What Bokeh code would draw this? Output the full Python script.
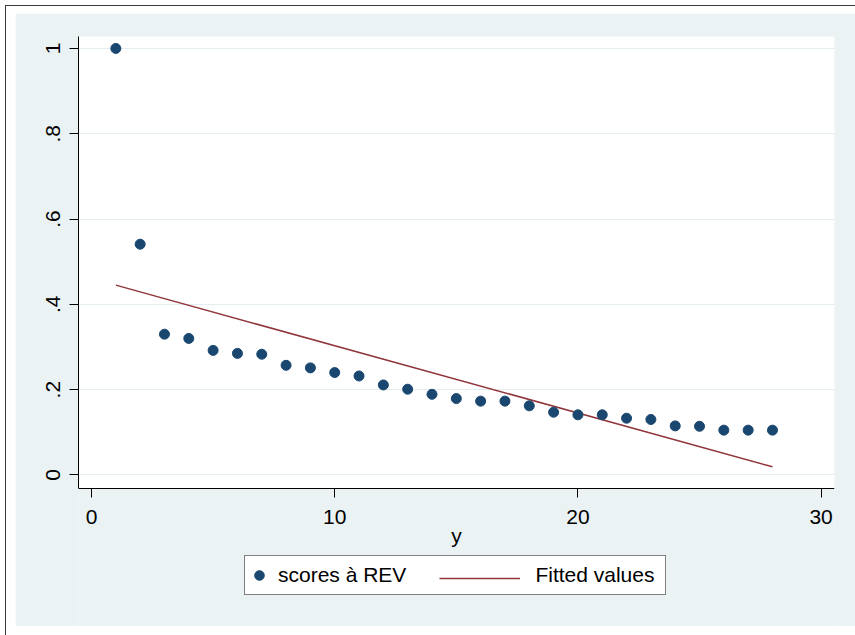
from bokeh.plotting import figure
from bokeh.models import Legend, LegendItem, FixedTicker, Range1d, BoxAnnotation
from bokeh.core.properties import value
from bokeh.embed import file_html
from bokeh.resources import INLINE

# ---- data ----
y_obs = list(range(1, 29))
scores_rev = [1.000, 0.541, 0.330, 0.320, 0.292, 0.285, 0.283, 0.257, 0.251, 0.240,
              0.232, 0.211, 0.201, 0.189, 0.179, 0.173, 0.173, 0.162, 0.147, 0.141,
              0.141, 0.133, 0.130, 0.115, 0.114, 0.105, 0.105, 0.105]
fit_x = [1, 28]
fit_y = [0.445, 0.019]

x_ticks = [0, 10, 20, 30]
y_ticks = [0, 0.2, 0.4, 0.6, 0.8, 1.0]
y_tick_labels = ["0", ".2", ".4", ".6", ".8", "1"]

series_labels = ["scores à REV", "Fitted values"]
x_title = "y"

NAVY = "#1A476F"
MAROON = "#90353B"
BG = "#EAF2F3"
FONT = "Liberation Sans"
FS = "21px"

Y_TOP = 1.028      # top of plot region
Y_AXIS = -0.0317   # where the x axis sits (bottom of plot region)
Y_LOW = -0.3554    # bottom of the drawing area (legend lives below the axis)

p = figure(width=840, height=613, output_backend="svg", toolbar_location=None, tools="",
           x_range=Range1d(-0.535, 30.55), y_range=Range1d(Y_LOW, Y_TOP),
           min_border_left=63, min_border_right=21, min_border_top=23, min_border_bottom=0)
p.styles = {"margin-left": "15px", "margin-top": "13px",
            "box-shadow": "-1px 1px 0 8px white, -1px 1px 0 9px #3c3c3c"}
p.background_fill_color = BG
p.border_fill_color = BG
p.outline_line_color = None

plot_region = BoxAnnotation(bottom=Y_AXIS, top=Y_TOP, fill_color="white", fill_alpha=1.0,
                            line_color=None, level="image")
p.add_layout(plot_region)

p.xgrid.visible = False
p.ygrid.grid_line_color = "#E4EDF0"
p.ygrid.grid_line_width = 1
p.ygrid.level = "underlay"

for ax in (p.xaxis[0], p.yaxis[0]):
    ax.axis_line_color = "black"
    ax.axis_line_width = 1
    ax.major_tick_line_color = "black"
    ax.major_tick_out = 9
    ax.major_tick_in = 0
    ax.minor_tick_line_color = None
    ax.major_label_text_font = FONT
    ax.major_label_text_font_size = FS
    ax.major_label_text_color = "black"

p.xaxis.ticker = FixedTicker(ticks=x_ticks)
p.xaxis.fixed_location = Y_AXIS
p.xaxis.major_label_standoff = 13
p.xaxis.axis_label = x_title
p.xaxis.axis_label_text_font = FONT
p.xaxis.axis_label_text_font_size = FS
p.xaxis.axis_label_text_font_style = "normal"
p.xaxis.axis_label_text_color = "black"
p.xaxis.axis_label_standoff = -4

p.yaxis.ticker = FixedTicker(ticks=y_ticks)
p.yaxis.bounds = (Y_AXIS, Y_TOP)
p.yaxis.major_label_overrides = {t: l for t, l in zip(y_ticks, y_tick_labels)}
p.yaxis.major_label_orientation = "vertical"
p.yaxis.major_label_standoff = 9

fit_r = p.line(fit_x, fit_y, line_color=MAROON, line_width=1.5)
pts_r = p.scatter(y_obs, scores_rev, size=10, fill_color=NAVY, line_color=NAVY)
dummy_r = p.line(x=[], y=[], line_alpha=0)

legend_main = Legend(
    items=[LegendItem(label=value(series_labels[0]), renderers=[pts_r]),
           LegendItem(label=value(series_labels[1]), renderers=[dummy_r])],
    orientation="horizontal", location=(166, 31), margin=0,
    glyph_width=24, glyph_height=34, label_standoff=7, spacing=98, padding=2,
    label_width=128, label_height=20,
    label_text_font=FONT, label_text_font_size=FS, label_text_color="black",
    border_line_color="black", border_line_width=1,
    background_fill_color="white", background_fill_alpha=1.0)
p.add_layout(legend_main)

legend_line = Legend(
    items=[LegendItem(label=value(""), renderers=[fit_r])],
    orientation="horizontal", location=(361, 31), margin=0,
    glyph_width=81, glyph_height=34, label_standoff=0, padding=2,
    label_width=0, label_height=0,
    label_text_font=FONT, label_text_font_size=FS,
    border_line_color=None, background_fill_alpha=0.0)
p.add_layout(legend_line)

open("out.html", "w").write(file_html(p, INLINE))
